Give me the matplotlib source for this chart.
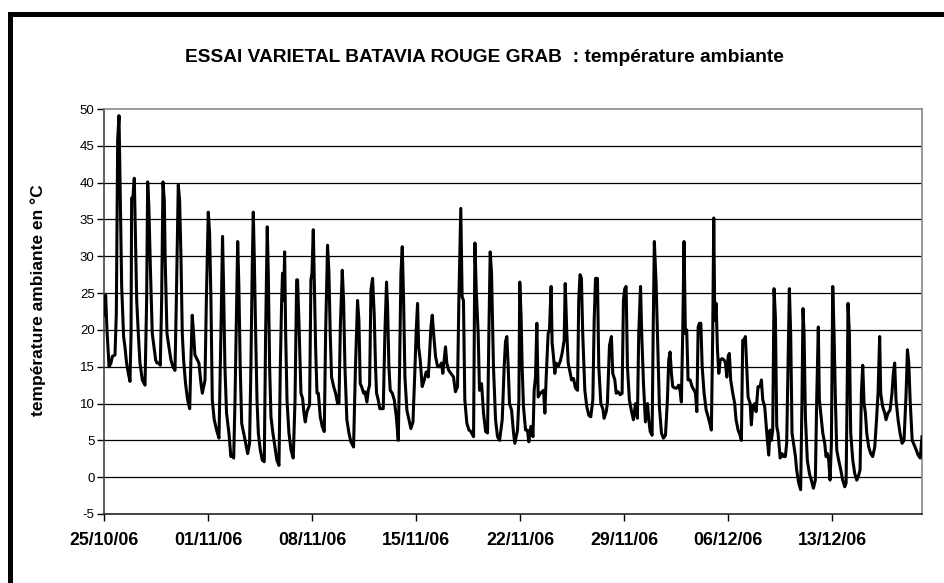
import matplotlib
matplotlib.use("Agg")
import matplotlib.pyplot as plt
import matplotlib.dates as mdates
import numpy as np
import pandas as pd
from matplotlib.patches import Rectangle

plt.rcParams['font.family'] = ['Liberation Sans', 'DejaVu Sans']
plt.rcParams['axes.unicode_minus'] = False

# relevés : jours depuis le 25/10/06 et température (°C)
jours = [
    0.00, 0.09, 0.18, 0.32, 0.45, 0.54, 0.72, 0.81, 0.90, 0.99, 1.08, 1.17, 1.30, 1.39, 1.50,
    1.62, 1.73, 1.80, 1.84, 1.93, 2.02, 2.09, 2.18, 2.29, 2.40, 2.56, 2.74, 2.85, 2.92, 3.00,
    3.10, 3.23, 3.37, 3.46, 3.55, 3.68, 3.77, 3.86, 3.95, 4.04, 4.10, 4.22, 4.35, 4.49, 4.62,
    4.76, 4.85, 4.98, 5.07, 5.16, 5.25, 5.34, 5.47, 5.61, 5.75, 5.83, 5.92, 6.01, 6.10, 6.22,
    6.37, 6.51, 6.60, 6.69, 6.78, 6.87, 7.00, 7.09, 7.18, 7.27, 7.40, 7.56, 7.72, 7.85, 7.96,
    8.03, 8.12, 8.23, 8.39, 8.52, 8.61, 8.71, 8.80, 8.91, 8.98,
    9.06, 9.15, 9.25, 9.38, 9.52, 9.65, 9.78, 9.87, 9.96, 10.03, 10.10, 10.19, 10.28, 10.37,
    10.50, 10.64, 10.77, 10.86, 10.97, 11.04, 11.13, 11.22, 11.35, 11.49, 11.62, 11.76, 11.85,
    11.94, 12.00, 12.08, 12.14, 12.21, 12.30, 12.43, 12.57, 12.72, 12.84, 12.95, 13.01, 13.10,
    13.24, 13.35, 13.44, 13.53, 13.64, 13.82, 13.91, 13.98, 14.07, 14.14, 14.23, 14.32, 14.41,
    14.54, 14.67, 14.81, 14.90, 15.03, 15.12, 15.21, 15.30, 15.44, 15.57, 15.71, 15.80, 15.89,
    16.02, 16.11, 16.20, 16.33, 16.47, 16.60, 16.78, 16.91, 17.05, 17.14, 17.23, 17.32, 17.46,
    17.55, 17.68, 17.77, 17.86, 17.95, 18.06, 18.17, 18.26,
    18.33, 18.44, 18.55, 18.78, 18.89, 19.00, 19.07, 19.16, 19.25, 19.39, 19.52, 19.66, 19.79,
    19.88, 19.97, 20.06, 20.15, 20.24, 20.37, 20.51, 20.64, 20.78, 20.91, 21.00, 21.09, 21.16,
    21.27, 21.40, 21.54, 21.67, 21.81, 21.90, 21.99, 22.08, 22.17, 22.30, 22.44, 22.57, 22.70,
    22.79, 22.88, 22.97, 23.06, 23.19, 23.33, 23.51, 23.64, 23.78, 23.87, 24.00, 24.09, 24.18,
    24.27, 24.41, 24.55, 24.68, 24.86, 24.95, 25.04, 25.17, 25.26, 25.40, 25.53, 25.67, 25.80,
    25.89, 25.98, 26.07, 26.11, 26.20, 26.34, 26.47, 26.61, 26.70, 26.79, 26.92, 27.01, 27.10,
    27.19, 27.28, 27.42, 27.55, 27.64,
    27.82, 27.91, 27.97, 28.06, 28.13, 28.22, 28.36, 28.49, 28.58, 28.72, 28.86, 28.94, 29.03,
    29.12, 29.21, 29.35, 29.48, 29.57, 29.66, 29.75, 29.88, 29.97, 30.08, 30.15, 30.24, 30.33,
    30.42, 30.55, 30.69, 30.82, 30.96, 31.03, 31.14, 31.23, 31.37, 31.46, 31.59, 31.72, 31.86,
    31.94, 32.03, 32.12, 32.21, 32.35, 32.48, 32.62, 32.75, 32.89, 32.98, 33.07, 33.20, 33.29,
    33.43, 33.56, 33.65, 33.79, 33.87, 34.01, 34.14, 34.23, 34.37, 34.46, 34.59, 34.73, 34.86,
    34.95, 35.04, 35.13, 35.22, 35.35, 35.48, 35.62, 35.76, 35.89, 35.98, 36.10, 36.18, 36.30,
    36.43, 36.57, 36.66, 36.75, 36.88, 36.95, 37.03,
    37.15, 37.24, 37.37, 37.51, 37.64, 37.78, 37.91, 38.00, 38.09, 38.18, 38.27, 38.41, 38.54,
    38.67, 38.76, 38.85, 38.94, 39.03, 39.12, 39.21, 39.30, 39.44, 39.57, 39.71, 39.80, 39.89,
    39.98, 40.07, 40.16, 40.25, 40.38, 40.52, 40.65, 40.74, 40.87, 40.96, 41.03, 41.10, 41.19,
    41.28, 41.37, 41.46, 41.60, 41.73, 41.82, 41.91, 42.00, 42.08, 42.17, 42.31, 42.44, 42.53,
    42.67, 42.80, 42.89, 42.98, 43.07, 43.16, 43.25, 43.34, 43.48, 43.56, 43.65, 43.79, 43.88,
    44.01, 44.15, 44.24, 44.33, 44.46, 44.60, 44.73, 44.82, 44.91, 45.00, 45.09, 45.18, 45.27,
    45.36, 45.50, 45.63, 45.72, 45.85, 45.94, 46.03, 46.12, 46.21, 46.30, 46.44, 46.53,
    46.61, 46.75, 46.88, 46.97, 47.04, 47.11, 47.20, 47.33, 47.47, 47.60, 47.74, 47.87, 47.96,
    48.07, 48.14, 48.23, 48.37, 48.50, 48.59, 48.68, 48.77, 48.86, 48.95, 49.04, 49.13, 49.22,
    49.31, 49.44, 49.58, 49.71, 49.85, 49.94, 50.03, 50.07, 50.16, 50.25, 50.39, 50.52, 50.66,
    50.79, 50.88, 50.97, 51.06, 51.15, 51.24, 51.33, 51.46, 51.60, 51.73, 51.87, 52.00, 52.09,
    52.20, 52.27, 52.40, 52.54, 52.63, 52.76, 52.90, 53.03, 53.12, 53.21, 53.30, 53.44, 53.57,
    53.71, 53.84, 53.98, 54.07, 54.16, 54.25, 54.39, 54.52, 54.66, 54.79, 54.93, 55.05,
]
temperature = [
    22.0, 24.7, 20.0, 15.0, 15.5, 16.4, 16.6, 22.3, 45.8, 49.1, 37.6, 25.9, 19.1, 17.7, 15.5,
    14.1, 13.0, 19.5, 37.9, 38.1, 40.6, 33.1, 24.1, 19.5, 15.5, 13.2, 12.5, 24.0, 40.1, 36.7,
    28.6, 19.5, 17.3, 15.9, 15.5, 15.5, 15.2, 24.0, 40.1, 37.6, 29.5, 19.5, 17.7, 15.9, 15.0,
    14.5, 24.0, 39.7, 37.6, 30.0, 19.5, 15.9, 12.7, 10.5, 9.3, 15.9, 22.0, 19.5, 16.6, 16.1,
    15.5, 12.7, 11.4, 12.3, 13.2, 24.0, 36.0, 33.1, 24.0, 10.5, 7.8, 6.4, 5.3, 19.5, 32.7,
    25.9, 15.0, 8.7, 6.0, 2.8, 3.0, 2.6, 10.5, 24.0, 32.0,
    25.9, 15.0, 7.3, 6.0, 4.6, 3.2, 4.6, 15.0, 28.6, 36.0, 29.5, 19.5, 10.5, 6.0,
    3.7, 2.3, 2.1, 19.5, 34.0, 27.7, 15.0, 8.2, 6.0, 4.1, 2.3, 1.6, 15.0,
    24.0, 27.7, 24.0, 30.6, 19.5, 10.5, 6.0, 3.7, 2.6, 10.5, 26.8, 26.8, 21.3,
    11.4, 10.7, 8.7, 7.5, 8.9, 9.8, 26.8, 27.7, 33.6, 26.3, 17.3, 11.4, 11.4,
    8.2, 6.9, 6.2, 19.5, 31.5, 27.9, 19.5, 13.6, 12.3, 11.4, 10.0, 10.0, 20.4,
    28.1, 24.0, 15.0, 7.8, 6.0, 4.8, 4.1, 15.0, 24.0, 21.3, 12.7, 12.3, 11.4,
    11.6, 10.2, 11.8, 12.5, 25.4, 27.0, 22.2, 15.0,
    11.4, 10.5, 9.3, 9.3, 19.5, 26.5, 23.2, 15.0, 11.8, 11.4, 10.5, 8.2, 5.0,
    15.0, 27.7, 31.3, 24.0, 13.6, 9.1, 7.8, 6.6, 7.5, 14.5, 20.0, 23.6, 17.7,
    15.9, 12.3, 13.2, 14.3, 13.6, 16.8, 20.4, 22.0, 19.5, 16.4, 15.0, 15.0, 15.5,
    14.1, 15.9, 17.7, 15.5, 14.5, 14.1, 13.6, 11.6, 12.3, 24.0, 36.5, 24.5, 24.0,
    10.5, 7.3, 6.4, 6.2, 5.5, 31.8, 25.4, 19.5, 11.8, 12.7, 8.7, 6.2, 6.0,
    19.5, 30.6, 27.7, 24.0, 15.0, 7.8, 5.5, 5.0, 6.4, 7.8, 15.0, 18.4, 19.1,
    15.0, 10.0, 9.1, 6.0, 4.6,
    6.4, 10.5, 26.5, 21.8, 15.0, 9.6, 6.4, 6.4, 4.8, 6.9, 5.5, 11.8, 13.6,
    20.9, 10.9, 11.4, 11.6, 11.8, 8.7, 13.6, 19.5, 20.0, 25.9, 18.2, 16.4, 14.1,
    15.5, 15.0, 15.7, 16.8, 18.6, 26.3, 19.5, 15.5, 14.1, 13.2, 13.4, 12.1, 11.8,
    24.0, 27.5, 27.0, 19.5, 11.8, 9.6, 8.4, 8.2, 10.5, 21.3, 27.0, 27.0, 15.0,
    10.0, 9.3, 8.0, 8.9, 10.0, 17.9, 19.1, 14.1, 13.2, 11.4, 11.6, 11.2, 11.4,
    24.0, 25.6, 25.9, 15.0, 10.5, 9.1, 7.8, 10.0, 8.0, 19.5, 25.9, 19.5, 12.7,
    7.5, 10.0, 7.8, 6.2, 5.7, 19.5, 32.0,
    26.3, 19.5, 9.6, 6.0, 5.3, 5.7, 10.5, 15.9, 17.0, 14.1, 12.3, 12.1, 12.1,
    12.5, 11.8, 10.2, 19.5, 32.0, 19.5, 20.0, 13.2, 13.2, 12.3, 11.8, 11.4, 8.9,
    20.4, 20.9, 20.9, 15.0, 11.4, 9.1, 8.2, 7.5, 6.4, 19.5, 35.2, 21.3, 23.6,
    17.3, 14.1, 15.9, 16.1, 15.9, 15.5, 13.6, 16.4, 16.8, 13.2, 11.4, 10.0, 7.8,
    6.4, 5.7, 5.0, 18.6, 18.6, 19.1, 15.0, 10.9, 10.0, 7.1, 9.6, 10.0, 8.9,
    12.3, 12.3, 13.2, 10.5, 9.6, 6.0, 3.0, 6.4, 5.0, 6.4, 25.6, 21.8, 6.9,
    6.0, 2.6, 3.2, 2.8, 2.8, 4.6, 15.0, 25.6, 19.5, 6.0, 4.1, 2.8,
    1.0, -0.8, -1.7, 10.5, 22.9, 19.5, 8.2, 2.3, 0.5, -0.4, -1.5, -0.4, 10.5,
    20.4, 10.5, 8.7, 6.0, 4.6, 2.8, 3.2, 2.3, -0.4, 4.6, 25.9, 19.5, 10.5,
    3.7, 2.3, 1.0, -0.4, -1.3, -0.8, 15.0, 23.6, 19.5, 6.0, 2.3, 0.5, -0.4,
    0.3, 1.0, 11.4, 15.2, 10.0, 8.7, 6.0, 4.1, 3.2, 2.8, 4.1, 8.2, 11.4,
    19.1, 11.4, 9.6, 8.7, 7.8, 8.7, 9.1, 11.4, 14.1, 15.5, 10.5, 7.8, 6.0,
    4.6, 5.0, 11.4, 17.3, 15.5, 10.5, 5.0, 4.4, 3.7, 3.0, 2.6, 5.5,
]
debut = "2006-10-25"
semaines = pd.date_range(debut, periods=8, freq="7D")
graduations_y = list(range(-5, 51, 5))
titre = "ESSAI VARIETAL BATAVIA ROUGE GRAB  : température ambiante"
label_y = "température ambiante en °C"

dates = pd.Timestamp(debut) + pd.to_timedelta(jours, unit="D")
x = mdates.date2num(dates.to_pydatetime())

fig = plt.figure(figsize=(9.45, 5.83), dpi=100)
ax = fig.add_axes([104.3 / 945, 1 - 514 / 583, (922 - 104.3) / 945, (514 - 109) / 583])

for g in graduations_y[1:-1]:
    ax.axhline(g, color="black", lw=0.9, zorder=1)

ax.plot(x, temperature, color="black", lw=2.2, solid_joinstyle="round", zorder=3)

ax.set_xlim(x[0], x[-1])
ax.set_ylim(graduations_y[0], graduations_y[-1])
ax.set_yticks(graduations_y)
ax.set_xticks(mdates.date2num(semaines.to_pydatetime()))
ax.xaxis.set_major_formatter(mdates.DateFormatter("%d/%m/%y"))

ax.tick_params(axis="y", direction="out", length=5, width=1, pad=2, labelsize=9.5, colors="black")
ax.tick_params(axis="x", direction="out", length=5, width=1, pad=8, labelsize=12.8)
for lab in ax.get_xticklabels():
    lab.set_fontweight("bold")

ax.spines["top"].set_color("#888888")
ax.spines["right"].set_color("#888888")
ax.spines["left"].set_color("#444444")
ax.spines["bottom"].set_color("#222222")
for s in ax.spines.values():
    s.set_linewidth(1.2)

fig.text(484 / 945, 1 - 57 / 583, titre, ha="center", va="center",
         fontsize=13.8, fontweight="bold")
fig.text(38 / 945, 1 - 300 / 583, label_y, ha="center", va="center",
         rotation=90, fontsize=12.5, fontweight="bold")

# cadre noir épais de l'objet graphique (coupé à droite et en bas)
fig.patches.append(Rectangle((9.8 / 945, -0.2), 1.5, 1.2 - 13.5 / 583, transform=fig.transFigure,
                             fill=False, ec="black", lw=3.6))

fig.savefig("out.png", dpi=100)
